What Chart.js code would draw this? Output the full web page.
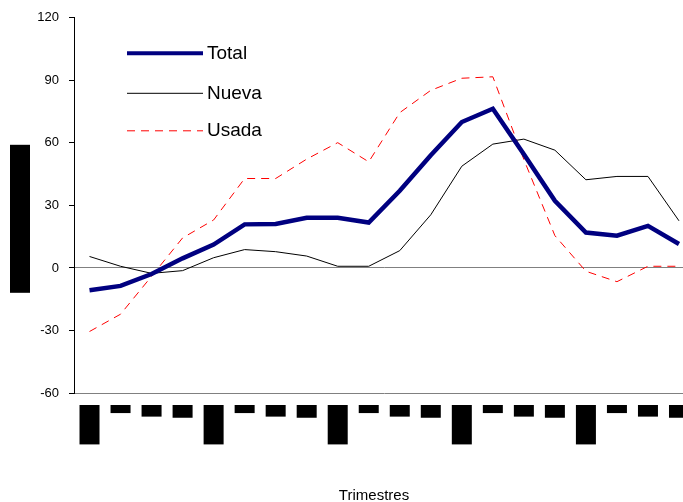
<!DOCTYPE html>
<html>
<head>
<meta charset="utf-8">
<script src="https://cdn.jsdelivr.net/npm/chart.js@4.4.1/dist/chart.umd.min.js"></script>
<style>
html, body { margin: 0; padding: 0; overflow: hidden; background: #fff; }
canvas { display: block; }
</style>
</head>
<body>
<canvas id="myChart" width="700" height="502"></canvas>
<script>
// quarters (labels are hidden behind black blocks in the source)
const trimestres = ['I-2004', 'II', 'III', 'IV', 'I-2005', 'II', 'III', 'IV',
                    'I-2006', 'II', 'III', 'IV', 'I-2007', 'II', 'III', 'IV',
                    'I-2008', 'II', 'III', 'IV'];
const total = [-10.7, -8.6, -2.9, 4.6, 11.2, 20.9, 21.1, 24.1, 24.1, 21.8,
               37, 54.1, 70, 76.4, 54.5, 32.2, 17, 15.5, 20.2, 11.5];
const nueva = [5.5, 0.8, -2.6, -1.3, 4.9, 8.8, 7.8, 5.7, 0.8, 0.8,
               8.3, 25.5, 48.8, 59.4, 61.8, 56.5, 42.3, 43.9, 43.9, 22.6];
const usada = [-30.5, -22.2, -4, 14.4, 23, 42.9, 42.9, 52.2, 60.1, 50.9,
               74.5, 85.2, 91, 91.7, 52, 15.5, -1.6, -6.6, 0.8, 0.8];
const yTicks = [-60, -30, 0, 30, 60, 90, 120];
const yTitle = 'Variación anual (%)';
const xTitle = 'Trimestres';

const decor = {
    id: 'decor',
    beforeDraw(chart) {
        const ctx = chart.ctx, area = chart.chartArea;
        // y axis title (shown as a solid block in the source)
        ctx.save();
        ctx.fillStyle = '#000';
        ctx.fillRect(10, area.top + 127, 20, 148);
        ctx.translate(20, area.top + 201);
        ctx.rotate(-Math.PI / 2);
        ctx.font = '12px "Liberation Sans"';
        ctx.textAlign = 'center';
        ctx.textBaseline = 'middle';
        ctx.fillText(yTitle, 0, 0);
        ctx.restore();
    },
    afterDraw(chart) {
        const ctx = chart.ctx, area = chart.chartArea;
        ctx.save();
        ctx.fillStyle = '#000';
        ctx.font = '15px "Liberation Sans"';
        ctx.textAlign = 'center';
        ctx.textBaseline = 'alphabetic';
        ctx.fillText(xTitle, 374, 500);

        // legend inside the plot
        const rows = [35.5, 75.5, 113];
        chart.data.datasets.forEach((ds, i) => {
            const y = area.top + rows[i];
            ctx.beginPath();
            ctx.strokeStyle = ds.borderColor;
            ctx.lineWidth = ds.legendWidth;
            ctx.setLineDash(ds.borderDash || []);
            ctx.moveTo(area.left + 53, y);
            ctx.lineTo(area.left + 129, y);
            ctx.stroke();
            ctx.setLineDash([]);
            ctx.fillStyle = '#000';
            ctx.font = '19px "Liberation Sans"';
            ctx.textAlign = 'left';
            ctx.textBaseline = 'middle';
            ctx.fillText(ds.label, area.left + 133, y);
        });
        ctx.restore();
    }
};

const ctx = document.getElementById('myChart').getContext('2d');
const chart = new Chart(ctx, {
    type: 'line',
    data: {
        labels: trimestres,
        datasets: [
            { label: 'Total', data: total, borderColor: '#000080', borderWidth: 4.5, legendWidth: 4 },
            { label: 'Nueva', data: nueva, borderColor: '#000000', borderWidth: 1, legendWidth: 1 },
            { label: 'Usada', data: usada, borderColor: '#ff0000', borderWidth: 1, legendWidth: 1, borderDash: [8, 6] }
        ]
    },
    options: {
        responsive: false,
        animation: false,
        layout: { padding: { top: 17, right: 5.5, left: 0, bottom: 0 } },
        elements: {
            point: { radius: 0 },
            line: { tension: 0, borderCapStyle: 'butt', borderJoinStyle: 'miter' }
        },
        plugins: {
            legend: { display: false },
            tooltip: { enabled: false }
        },
        scales: {
            x: {
                offset: true,
                grid: { display: false, drawTicks: false },
                border: { color: '#808080', width: 1 },
                ticks: {
                    autoSkip: false,
                    minRotation: 90,
                    maxRotation: 90,
                    color: '#000',
                    font: { family: 'DejaVu Sans', size: 12 },
                    padding: 12.5,
                    labelOffset: -7.2,
                    showLabelBackdrop: true,
                    backdropColor: '#000',
                    backdropPadding: { top: 2.8, bottom: 2.8, left: 0.5, right: 0.5 }
                },
                afterFit: s => {
                    s.height = 109;
                    s.paddingLeft = 0;
                    s.paddingRight = 0;
                }
            },
            y: {
                min: yTicks[0],
                max: yTicks[yTicks.length - 1],
                afterBuildTicks: s => { s.ticks = yTicks.map(v => ({ value: v })); },
                ticks: {
                    color: '#000',
                    font: { family: 'Liberation Sans', size: 13 },
                    padding: 10
                },
                grid: {
                    color: c => (c.tick && c.tick.value === 0) ? '#808080' : 'rgba(0,0,0,0)',
                    tickColor: '#000',
                    tickLength: 5
                },
                border: { color: '#000', width: 1 },
                afterFit: s => { s.width = 74; }
            }
        }
    },
    plugins: [decor]
});
</script>
</body>
</html>
